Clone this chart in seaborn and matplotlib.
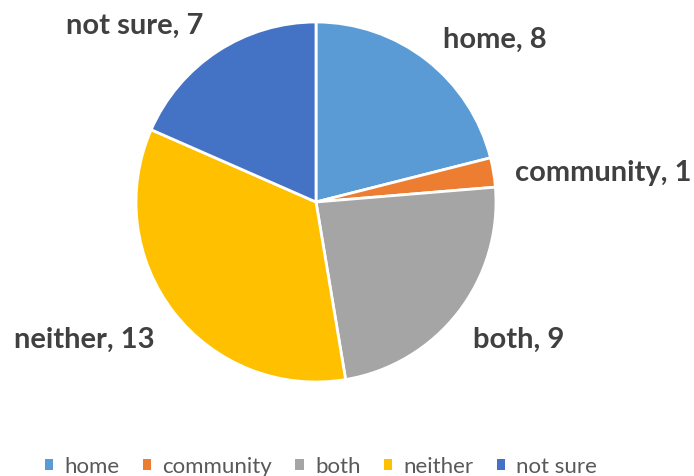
import matplotlib
matplotlib.use("Agg")
import numpy as np
import matplotlib.pyplot as plt
import seaborn as sns
from matplotlib.patches import Patch

categories = ["home", "community", "both", "neither", "not sure"]
values = [8, 1, 9, 13, 7]
colors = ["#5B9BD5", "#ED7D31", "#A5A5A5", "#FFC000", "#4472C4"]

sns.set_theme(style="white")
plt.rcParams["font.family"] = ["Lato", "DejaVu Sans"]
palette = sns.color_palette(colors)

W, H = 694, 477
R = 180.0
cx, cy = 316.0, 203.0  # pixel centre (from top)

fig = plt.figure(figsize=(W / 100, H / 100), dpi=100)
ax = fig.add_axes([0, 0, 1, 1])

wedges, _ = ax.pie(
    values,
    colors=palette,
    startangle=90,
    counterclock=False,
    radius=1,
    wedgeprops=dict(edgecolor="white", linewidth=2),
)
ax.set_xlim(-cx / R, (W - cx) / R)
ax.set_ylim(-(H - cy) / R, cy / R)
ax.set_aspect("equal")
ax.axis("off")

# data labels placed outside each wedge (best-fit style)
label_dist = [1.15, 1.12, 1.16, 1.175, 1.165]
angle_shift = [0, -1, -3.2, 2.5, -0.6]
for w, c, v, d, s in zip(wedges, categories, values, label_dist, angle_shift):
    ang = np.deg2rad((w.theta1 + w.theta2) / 2 + s)
    x, y = d * np.cos(ang), d * np.sin(ang)
    ax.text(x, y, f"{c}, {v}", ha="left" if x > 0 else "right", va="center",
            fontsize=21, fontweight="bold", color="#404040")

handles = [Patch(facecolor=c, edgecolor="none") for c in palette]
fig.legend(
    handles, categories,
    loc="center", bbox_to_anchor=(321 / W, 1 - 467 / H),
    ncol=5, frameon=False,
    fontsize=16, labelcolor="#595959",
    handlelength=0.38, handleheight=0.38, handletextpad=0.5,
    columnspacing=1.05,
)

fig.savefig("out.png", dpi=100, facecolor="white")
